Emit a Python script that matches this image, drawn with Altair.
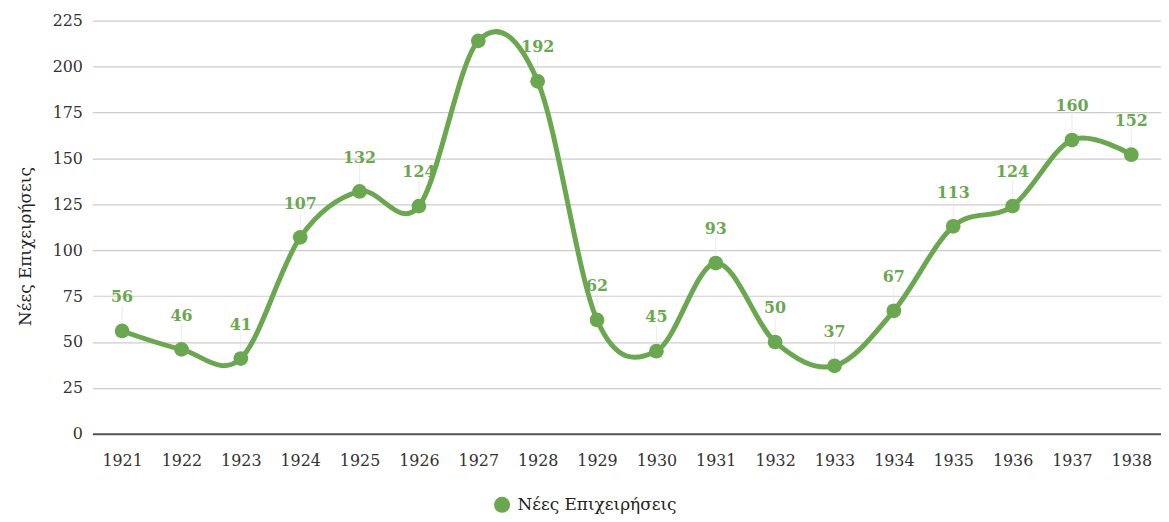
import altair as alt
import pandas as pd

years = [str(y) for y in range(1921, 1939)]
values = [56, 46, 41, 107, 132, 124, 214, 192, 62, 45, 93, 50, 37, 67, 113, 124, 160, 152]
series_name = "Νέες Επιχειρήσεις"
y_ticks = [0, 25, 50, 75, 100, 125, 150, 175, 200, 225]
hidden_labels = ["1927"]

df = pd.DataFrame({"year": years, "value": values, "series": [series_name] * len(years)})

GREEN = "#6aa84f"
FONT = "DejaVu Serif"
label_filter = "indexof(" + str(hidden_labels).replace("'", '"') + ", datum.year) < 0"

x = alt.X("year:O", title=None,
          scale=alt.Scale(type="point", padding=0.5),
          axis=alt.Axis(labelAngle=0, labelFont=FONT, labelFontSize=16, labelColor="#333",
                        domainColor="#555", domainWidth=2, ticks=False, labelPadding=19))
y = alt.Y("value:Q", title="Νέες Επιχειρήσεις",
          scale=alt.Scale(domain=[0, 225], nice=False),
          axis=alt.Axis(values=y_ticks, labelFont=FONT, labelFontSize=16, labelColor="#333",
                        titleFont=FONT, titleFontSize=17, titleFontWeight="normal", titleColor="#222",
                        titlePadding=18, titleY=227, domain=False, ticks=False, labelPadding=10,
                        gridColor="#cccccc", gridWidth=1.2))

color_scale = alt.Scale(domain=[series_name], range=[GREEN])
legend = alt.Legend(title=None, orient="none", legendX=404, legendY=479,
                    symbolType="circle", symbolSize=260, symbolOpacity=1,
                    symbolFillColor=GREEN, symbolStrokeWidth=0, labelLimit=400, labelOffset=7,
                    labelFont=FONT, labelFontSize=17, labelColor="#222")
color = alt.Color("series:N", scale=color_scale, legend=legend)

base = alt.Chart(df)

line = base.mark_line(interpolate="cardinal", tension=0, strokeWidth=5).encode(
    x=x, y=y, color=color)

leaders = base.transform_filter(label_filter).mark_tick(
    orient="vertical", size=18, thickness=1, color="#e3e3e3", yOffset=-17).encode(x=x, y=y)

points = base.mark_point(filled=True, size=220, opacity=1).encode(
    x=x, y=y, color=color)

labels = base.transform_filter(label_filter).mark_text(
    dy=-34, font=FONT, fontSize=16, fontWeight="bold", color=GREEN, baseline="middle").encode(
    x=x, y=y, text="value:Q")

chart = alt.layer(leaders, line, points, labels).properties(
    width=1076, height=416,
    autosize=alt.AutoSizeParams(type="none"),
    padding={"left": 85, "top": 11, "right": 0, "bottom": 79},
).configure_view(stroke=None)

chart.save("out.html", embed_options={"renderer": "svg", "actions": False})
